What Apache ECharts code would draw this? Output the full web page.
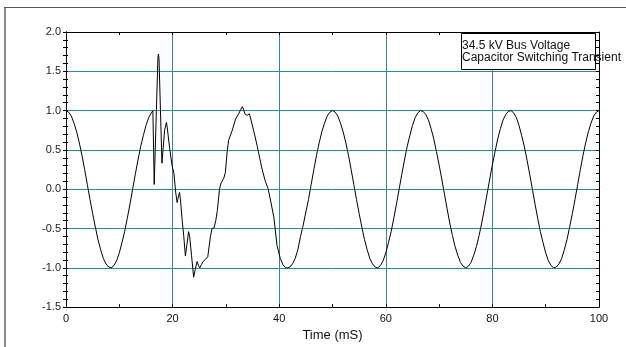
<!DOCTYPE html>
<html>
<head>
<meta charset="utf-8">
<script src="https://cdn.jsdelivr.net/npm/echarts@6/dist/echarts.min.js"></script>
<style>
  html, body { margin: 0; padding: 0; background: #ffffff; }
  #chart { width: 626px; height: 347px; }
</style>
</head>
<body>
<div id="chart"></div>
<script>
// bus voltage in per unit, time in ms
const beforeSwitching = [
  [0, 1.00], [0.5, 0.98], [1, 0.93], [1.5, 0.84], [2, 0.73], [2.5, 0.59], [3, 0.43], [3.5, 0.25],
  [4, 0.06], [4.5, -0.13], [5, -0.31], [5.5, -0.48], [6, -0.64], [6.5, -0.77], [7, -0.88], [7.5, -0.95],
  [8, -0.99], [8.5, -1.00], [9, -0.97], [9.5, -0.91], [10, -0.81], [10.5, -0.68], [11, -0.54], [11.5, -0.37],
  [12, -0.19], [12.5, 0.00], [13, 0.19], [13.5, 0.37], [14, 0.54], [14.5, 0.68], [15, 0.81], [15.5, 0.91],
  [16, 0.97], [16.3, 1.00]
];

const transient = [
  [16.55, 0.06], [17.25, 1.68], [17.35, 1.72], [17.45, 1.66], [18.0, 0.33], [18.5, 0.75], [18.85, 0.85],
  [19.0, 0.78], [19.45, 0.52], [19.9, 0.30], [20.25, 0.20], [20.6, -0.05], [20.85, -0.17], [21.0, -0.12],
  [21.3, -0.04], [21.5, -0.15], [21.8, -0.40], [22.1, -0.60], [22.4, -0.85], [22.7, -0.70], [23.0, -0.54],
  [23.2, -0.60], [23.55, -0.84], [23.95, -1.12], [24.25, -1.02], [24.6, -0.92], [24.85, -0.97], [25.1, -1.00],
  [25.4, -0.96], [25.7, -0.92], [26.2, -0.89], [26.6, -0.86], [27.1, -0.60], [27.4, -0.50], [27.8, -0.49],
  [28.1, -0.40], [28.4, -0.27], [28.8, 0.00], [29.1, 0.08], [29.6, 0.14], [29.9, 0.21], [30.2, 0.45],
  [30.5, 0.62], [31.2, 0.75], [31.8, 0.89], [32.4, 0.96], [33.05, 1.05], [33.3, 1.02], [33.55, 0.96],
  [34.0, 0.94], [34.4, 0.96], [34.9, 0.83], [35.4, 0.69], [35.9, 0.54], [36.8, 0.25], [37.4, 0.10],
  [37.9, 0.01], [38.4, -0.15], [39.0, -0.36], [39.6, -0.72], [40.2, -0.88], [40.7, -0.96], [41.2, -1.00],
  [41.6, -1.00], [42.0, -0.99]
];

const afterTransient = [
  [42.5, -0.95], [43, -0.88], [43.5, -0.77], [44, -0.60], [44.5, -0.46], [45, -0.29], [45.5, -0.13],
  [46, 0.06], [46.5, 0.25], [47, 0.43], [47.5, 0.59], [48, 0.73], [48.5, 0.84], [49, 0.93], [49.5, 0.98],
  [50, 1.00], [50.5, 0.98], [51, 0.93], [51.5, 0.84], [52, 0.73], [52.5, 0.59], [53, 0.43], [53.5, 0.25],
  [54, 0.06], [54.5, -0.13], [55, -0.31], [55.5, -0.48], [56, -0.64], [56.5, -0.77], [57, -0.88], [57.5, -0.95],
  [58, -0.99], [58.5, -1.00], [59, -0.97], [59.5, -0.91], [60, -0.81], [60.5, -0.68], [61, -0.54], [61.5, -0.37],
  [62, -0.19], [62.5, 0.00], [63, 0.19], [63.5, 0.37], [64, 0.54], [64.5, 0.68], [65, 0.81], [65.5, 0.91],
  [66, 0.97], [66.5, 1.00], [67, 0.99], [67.5, 0.95], [68, 0.88], [68.5, 0.77], [69, 0.64], [69.5, 0.48],
  [70, 0.31], [70.5, 0.13], [71, -0.06], [71.5, -0.25], [72, -0.43], [72.5, -0.59], [73, -0.73], [73.5, -0.84],
  [74, -0.93], [74.5, -0.98], [75, -1.00], [75.5, -0.98], [76, -0.93], [76.5, -0.84], [77, -0.73], [77.5, -0.59],
  [78, -0.43], [78.5, -0.25], [79, -0.06], [79.5, 0.13], [80, 0.31], [80.5, 0.48], [81, 0.64], [81.5, 0.77],
  [82, 0.88], [82.5, 0.95], [83, 0.99], [83.5, 1.00], [84, 0.97], [84.5, 0.91], [85, 0.81], [85.5, 0.68],
  [86, 0.54], [86.5, 0.37], [87, 0.19], [87.5, 0.00], [88, -0.19], [88.5, -0.37], [89, -0.54], [89.5, -0.68],
  [90, -0.81], [90.5, -0.91], [91, -0.97], [91.5, -1.00], [92, -0.99], [92.5, -0.95], [93, -0.88], [93.5, -0.77],
  [94, -0.64], [94.5, -0.48], [95, -0.31], [95.5, -0.13], [96, 0.06], [96.5, 0.25], [97, 0.43], [97.5, 0.59],
  [98, 0.73], [98.5, 0.84], [99, 0.93], [99.5, 0.98], [100, 1.00]
];

const legendLines = ["34.5 kV Bus Voltage", "Capacitor Switching Transient"];

const font = "'Liberation Sans', Arial, sans-serif";
const gridColor = "#2b8c8c";

const chart = echarts.init(document.getElementById("chart"));

const yBase = { type: "value", min: -1.5, max: 2.0, interval: 0.5 };
const xBase = { type: "value", min: 0, max: 100, interval: 20 };

chart.setOption({
  animation: false,
  backgroundColor: "#ffffff",
  grid: { left: 66, right: 27, top: 32, bottom: 36 },
  xAxis: [
    {
      ...xBase,
      position: "bottom",
      name: "Time (mS)",
      nameLocation: "middle",
      nameGap: 20,
      nameTextStyle: { color: "#111", fontSize: 13, fontFamily: font },
      axisLine: { onZero: false, lineStyle: { color: "#000", width: 1 } },
      axisTick: { inside: true, length: 3, lineStyle: { color: "#000" } },
      minorTick: { show: true, splitNumber: 2, length: 3, lineStyle: { color: "#000" } },
      axisLabel: { color: "#111", fontSize: 11, fontFamily: font, margin: 6 },
      splitLine: { show: true, showMinLine: false, showMaxLine: false, lineStyle: { color: gridColor } }
    },
    {
      ...xBase,
      position: "top",
      axisLine: { onZero: false, lineStyle: { color: "#000", width: 1 } },
      axisTick: { inside: true, length: 3, lineStyle: { color: "#000" } },
      minorTick: { show: true, splitNumber: 2, length: 3, lineStyle: { color: "#000" } },
      axisLabel: { show: false },
      splitLine: { show: false }
    }
  ],
  yAxis: [
    {
      ...yBase,
      position: "left",
      axisLine: { onZero: false, lineStyle: { color: "#000", width: 1 } },
      axisTick: { length: 3, lineStyle: { color: "#000" } },
      minorTick: { show: true, splitNumber: 5, length: 3, lineStyle: { color: "#000" } },
      axisLabel: { color: "#222", fontSize: 11, fontFamily: font, margin: 5, formatter: v => v.toFixed(1) },
      splitLine: { show: true, showMinLine: false, showMaxLine: false, lineStyle: { color: gridColor } }
    },
    {
      ...yBase,
      position: "right",
      axisLine: { show: true, onZero: false, lineStyle: { color: "#000", width: 1 } },
      axisTick: { show: true, inside: true, length: 3, lineStyle: { color: "#000" } },
      minorTick: { show: true, splitNumber: 5, length: 3, lineStyle: { color: "#000" } },
      axisLabel: { show: false },
      splitLine: { show: false }
    },
    {
      ...yBase,
      position: "left",
      offset: 0,
      axisLine: { show: true, onZero: false, lineStyle: { color: "#000", width: 1 } },
      axisTick: { show: true, inside: true, length: 2, lineStyle: { color: "#000" } },
      minorTick: { show: true, splitNumber: 5, length: 2, lineStyle: { color: "#000" } },
      axisLabel: { show: false },
      splitLine: { show: false }
    }
  ],
  graphic: [
    { type: "line", shape: { x1: 5, y1: 7, x2: 5, y2: 347 }, style: { stroke: "#8a8a8a", lineWidth: 2 } },
    { type: "line", shape: { x1: 4, y1: 7.5, x2: 626, y2: 7.5 }, style: { stroke: "#555", lineWidth: 1 } },
    {
      type: "rect",
      z: 10,
      shape: { x: 461.5, y: 33.5, width: 134, height: 36 },
      style: { fill: "#fff", stroke: "#000", lineWidth: 1 }
    },
    {
      type: "text",
      z: 11,
      x: 462,
      y: 39,
      style: {
        text: legendLines.join("\n"),
        fill: "#111",
        font: "12px " + font,
        lineHeight: 12.5,
        verticalAlign: "top"
      }
    }
  ],
  series: [
    {
      type: "line",
      xAxisIndex: 0,
      yAxisIndex: 0,
      data: [...beforeSwitching, ...transient, ...afterTransient],
      showSymbol: false,
      smooth: false,
      lineStyle: { color: "#000", width: 1 },
      z: 5
    }
  ]
});
</script>
</body>
</html>
